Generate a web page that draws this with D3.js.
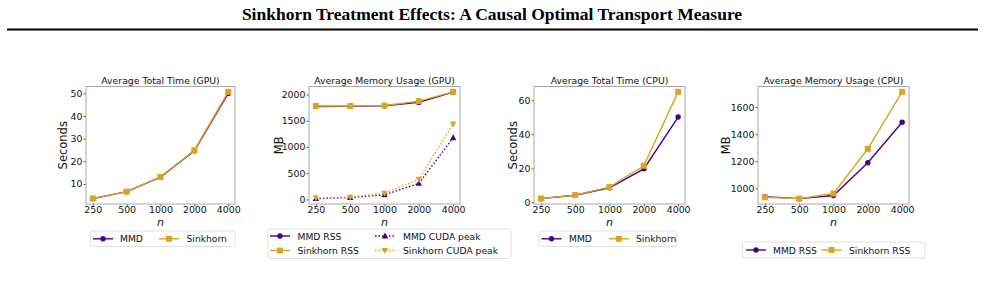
<!DOCTYPE html>
<html><head><meta charset="utf-8">
<script src="https://cdn.jsdelivr.net/npm/d3@7"></script>
<style>
html,body{margin:0;padding:0;background:#fff;}
svg{display:block;}
</style></head>
<body>
<svg id="chart" width="985" height="302"></svg>
<script>
// ---------- DATA ----------
const categories = ["250", "500", "1000", "2000", "4000"];

const gpuTimeMMD      = [3.5, 6.6, 13.0, 24.7, 50.0];
const gpuTimeSinkhorn = [3.6, 6.6, 13.1, 24.9, 50.7];

const gpuMemMMDRSS       = [1772, 1774, 1783, 1849, 2046];
const gpuMemSinkhornRSS  = [1780, 1779, 1790, 1873, 2050];
const gpuMemMMDCuda      = [15, 36, 87, 305, 1175];
const gpuMemSinkhornCuda = [30, 45, 118, 385, 1437];

const cpuTimeMMD      = [2.2, 4.2, 8.6, 19.7, 50.1];
const cpuTimeSinkhorn = [2.3, 4.3, 9.0, 21.5, 64.9];

const cpuMemMMDRSS      = [940, 925, 948, 1190, 1488];
const cpuMemSinkhornRSS = [935, 925, 963, 1292, 1712];

const ticksGpuTime = [10, 20, 30, 40, 50];
const ticksGpuMem  = [0, 500, 1000, 1500, 2000];
const ticksCpuTime = [0, 20, 40, 60];
const ticksCpuMem  = [1000, 1200, 1400, 1600];

const titleText = "Sinkhorn Treatment Effects: A Causal Optimal Transport Measure";

// ---------- STYLE ----------
const PURPLE = "#4b0082";
const GOLD = "#daa520";
const FONT = "DejaVu Sans, sans-serif";

const svg = d3.select("#chart");

// Header
svg.append("text")
  .attr("x", 492).attr("y", 20)
  .attr("text-anchor", "middle")
  .attr("font-family", "Liberation Serif, Times New Roman, serif")
  .attr("font-weight", "bold")
  .attr("font-size", 17.5)
  .attr("fill", "#000")
  .text(titleText);
svg.append("line")
  .attr("x1", 7).attr("x2", 978)
  .attr("y1", 29.5).attr("y2", 29.5)
  .attr("stroke", "#000").attr("stroke-width", 2);

const panels = [
  { title: "Average Total Time (GPU)", ylabel: "Seconds", box: [86, 235, 86.5, 204], ylabX: 63, ticks: ticksGpuTime,
    series: [
      { name: "MMD", values: gpuTimeMMD, color: PURPLE, marker: "circle", dash: null },
      { name: "Sinkhorn", values: gpuTimeSinkhorn, color: GOLD, marker: "square", dash: null }
    ],
    legend: { box: [90.5, 235, 231, 246.5], cols: [[93, 120], [159, 186.5]], rows: [238.8] } },
  { title: "Average Memory Usage (GPU)", ylabel: "MB", box: [309, 460, 86.5, 204], ylabX: 278.5, ticks: ticksGpuMem,
    series: [
      { name: "MMD RSS", values: gpuMemMMDRSS, color: PURPLE, marker: "circle", dash: null },
      { name: "Sinkhorn RSS", values: gpuMemSinkhornRSS, color: GOLD, marker: "square", dash: null },
      { name: "MMD CUDA peak", values: gpuMemMMDCuda, color: PURPLE, marker: "triup", dash: "1.5,2" },
      { name: "Sinkhorn CUDA peak", values: gpuMemSinkhornCuda, color: GOLD, marker: "tridown", dash: "1.5,2" }
    ],
    legend: { box: [268, 511, 229, 258.5], cols: [[270, 297.5], [375, 403]], rows: [236, 250.5], twoCol: true } },
  { title: "Average Total Time (CPU)", ylabel: "Seconds", box: [534, 685, 86.5, 204], ylabX: 512.5, ticks: ticksCpuTime,
    series: [
      { name: "MMD", values: cpuTimeMMD, color: PURPLE, marker: "circle", dash: null },
      { name: "Sinkhorn", values: cpuTimeSinkhorn, color: GOLD, marker: "square", dash: null }
    ],
    legend: { box: [539, 676.5, 231, 246.5], cols: [[541.5, 569], [609, 636]], rows: [238.8] } },
  { title: "Average Memory Usage (CPU)", ylabel: "MB", box: [758, 909, 86.5, 204], ylabX: 726, ticks: ticksCpuMem,
    series: [
      { name: "MMD RSS", values: cpuMemMMDRSS, color: PURPLE, marker: "circle", dash: null },
      { name: "Sinkhorn RSS", values: cpuMemSinkhornRSS, color: GOLD, marker: "square", dash: null }
    ],
    legend: { box: [742.5, 925, 242, 258], cols: [[746, 773], [821.5, 849]], rows: [250] } }
];

function drawMarker(g, type, x, y, color) {
  if (type === "circle") {
    g.append("circle").attr("cx", x).attr("cy", y).attr("r", 2.7).attr("fill", color);
  } else if (type === "square") {
    g.append("rect").attr("x", x - 3).attr("y", y - 3).attr("width", 6).attr("height", 6).attr("fill", color);
  } else if (type === "triup") {
    g.append("path").attr("d", `M${x},${y-3.4}L${x+3.2},${y+2.4}L${x-3.2},${y+2.4}Z`).attr("fill", color);
  } else if (type === "tridown") {
    g.append("path").attr("d", `M${x},${y+3.4}L${x+3.2},${y-2.4}L${x-3.2},${y-2.4}Z`).attr("fill", color);
  }
}

panels.forEach(p => {
  const [x0, x1, y0, y1] = p.box;
  const g = svg.append("g");
  const all = p.series.flatMap(s => s.values);
  const mn = d3.min(all), mx = d3.max(all), r = mx - mn;
  const x = d3.scalePoint().domain(categories).range([x0, x1]).padding(0.2);
  const y = d3.scaleLinear().domain([mn - 0.05 * r, mx + 0.05 * r]).range([y1, y0]);

  // axes
  const xAxis = d3.axisBottom(x).tickSize(2.5).tickPadding(1);
  const yAxis = d3.axisLeft(y).tickValues(p.ticks).tickSize(2.5).tickPadding(1).tickFormat(d3.format("d"));
  const gx = g.append("g").attr("transform", `translate(0,${y1})`).call(xAxis);
  const gy = g.append("g").attr("transform", `translate(${x0},0)`).call(yAxis);
  [gx, gy].forEach(a => {
    a.select(".domain").remove();
    a.selectAll(".tick line").attr("stroke", "#333").attr("stroke-width", 0.8);
    a.selectAll(".tick text").attr("font-family", FONT).attr("font-size", 9.4).attr("fill", "#111");
  });
  gx.selectAll(".tick text").attr("dy", "0.62em");

  // lines & markers
  p.series.forEach(s => {
    const line = d3.line().x((d, i) => x(categories[i])).y(d => y(d));
    g.append("path").datum(s.values).attr("d", line)
      .attr("fill", "none").attr("stroke", s.color).attr("stroke-width", 1.4)
      .attr("stroke-dasharray", s.dash);
    s.values.forEach((v, i) => drawMarker(g, s.marker, x(categories[i]), y(v), s.color));
  });

  // frame
  g.append("rect").attr("x", x0).attr("y", y0).attr("width", x1 - x0).attr("height", y1 - y0)
    .attr("fill", "none").attr("stroke", "#a8a8a8").attr("stroke-width", 1);

  // title
  g.append("text").attr("x", (x0 + x1) / 2).attr("y", y0 - 2.5).attr("text-anchor", "middle")
    .attr("font-family", FONT).attr("font-size", 9.3).attr("fill", "#111").text(p.title);
  // x label
  g.append("text").attr("x", (x0 + x1) / 2).attr("y", 226).attr("text-anchor", "middle")
    .attr("font-family", FONT).attr("font-style", "italic").attr("font-size", 11).attr("fill", "#111").text("n");
  // y label
  g.append("text").attr("transform", `translate(${p.ylabX},${(y0 + y1) / 2}) rotate(-90)`)
    .attr("text-anchor", "middle").attr("dominant-baseline", "central")
    .attr("font-family", FONT).attr("font-size", 11.5).attr("fill", "#111").text(p.ylabel);

  // legend
  const L = p.legend;
  const lg = svg.append("g");
  lg.append("rect").attr("x", L.box[0]).attr("y", L.box[2]).attr("width", L.box[1] - L.box[0]).attr("height", L.box[3] - L.box[2])
    .attr("rx", 2.5).attr("fill", "#fff").attr("stroke", "#d8d8d8").attr("stroke-width", 0.8);
  p.series.forEach((s, i) => {
    let col, row;
    if (L.twoCol) { col = Math.floor(i / 2); row = i % 2; } else { col = i; row = 0; }
    const hx = L.cols[col][0], tx = L.cols[col][1], ry = L.rows[row];
    lg.append("line").attr("x1", hx).attr("x2", hx + 20).attr("y1", ry).attr("y2", ry)
      .attr("stroke", s.color).attr("stroke-width", 1.4).attr("stroke-dasharray", s.dash);
    drawMarker(lg, s.marker, hx + 10, ry, s.color);
    lg.append("text").attr("x", tx).attr("y", ry).attr("dominant-baseline", "central")
      .attr("font-family", FONT).attr("font-size", 9.2).attr("fill", "#111").text(s.name);
  });
});
</script>
</body></html>
